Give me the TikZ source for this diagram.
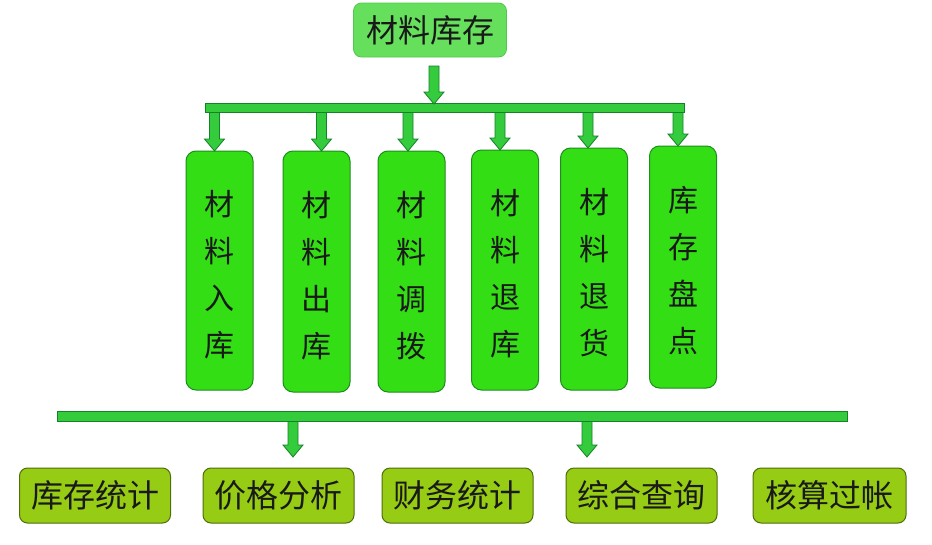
\documentclass[tikz,border=0pt]{standalone}
\usepackage{fontspec}
\setmainfont{Noto Sans CJK SC}
\usetikzlibrary{calc}
\definecolor{topfill}{RGB}{102,224,92}
\definecolor{topdraw}{RGB}{80,200,80}
\definecolor{colfill}{RGB}{52,222,20}
\definecolor{coldraw}{RGB}{30,140,30}
\definecolor{barfill}{RGB}{52,204,60}
\definecolor{bardraw}{RGB}{20,130,40}
\definecolor{botfill}{RGB}{150,204,20}
\definecolor{botdraw}{RGB}{80,110,10}
\definecolor{txt}{RGB}{25,25,25}
\tikzset{
  topbox/.style={draw=topdraw, fill=topfill, line width=0.8pt, rounded corners=8pt, minimum width=153pt, minimum height=54pt, inner sep=0pt, text=txt, font=\fontsize{32}{32}\selectfont},
  colbox/.style={draw=coldraw, fill=colfill, line width=1pt, rounded corners=10pt, minimum width=67pt, inner sep=0pt, text=txt, align=center, font=\fontsize{30}{47}\selectfont},
  botbox/.style={draw=botdraw, fill=botfill, line width=1pt, rounded corners=8pt, minimum width=151pt, minimum height=55pt, inner sep=0pt, text=txt, font=\fontsize{32}{32}\selectfont},
  bar/.style={draw=bardraw, fill=barfill, line width=0.8pt, inner sep=0pt},
  arrfill/.style={draw=bardraw, fill=barfill, line width=0.8pt, line join=miter}
}
\newcommand\blockarr[2]{\filldraw[arrfill] ($(#1)+(-5,0)$) -- ($(#2)+(-5,-12)$) -- ($(#2)+(-10,-12)$) -- (#2) -- ($(#2)+(10,-12)$) -- ($(#2)+(5,-12)$) -- ($(#1)+(5,0)$) -- cycle;}
\begin{document}
\begin{tikzpicture}[x=1pt,y=-1pt]
\useasboundingbox[fill=white] (0,0) rectangle (932,544);
% top
\node[topbox] (top) at (430,30) {材料库存};
\node[bar, minimum width=479pt, minimum height=9pt] (topbar) at (444.5,107.5) {};
\coordinate (ta0) at (434,66);
\coordinate (ta) at (434,104);
\blockarr{ta0}{ta}
% columns
\node[colbox, minimum height=239pt] (c1) at (219.5,270.5) {};
\node[colbox, minimum height=241pt] (c2) at (316.5,271.5) {};
\node[colbox, minimum height=241pt] (c3) at (411.5,271.5) {};
\node[colbox, minimum height=240pt] (c4) at (505,270) {};
\node[colbox, minimum height=242pt] (c5) at (594,269) {};
\node[colbox, minimum height=242pt] (c6) at (683,267) {};
\foreach \i/\t in {1/材\\料\\入\\库,2/材\\料\\出\\库,3/材\\料\\调\\拨,4/材\\料\\退\\库,5/材\\料\\退\\货,6/库\\存\\盘\\点}{
  \node[text=txt, align=center, font=\fontsize{30}{47}\selectfont, inner sep=0pt] at ($(c\i.center)+(0,4)$) {\t};
}
\coordinate (t1) at (214.5,151);
\coordinate (t2) at (321.5,151);
\coordinate (t3) at (408,151);
\coordinate (t4) at (500,150);
\coordinate (t5) at (588,148);
\coordinate (t6) at (678,146);
\foreach \i in {1,...,6}{
  \coordinate (s\i) at (topbar.south -| t\i);
  \blockarr{s\i}{t\i}
}
% bottom bar
\node[bar, minimum width=790pt, minimum height=10pt] (botbar) at (452,416) {};
\coordinate (b1) at (293,457);
\coordinate (b2) at (587,457);
\coordinate (bs1) at (botbar.south -| b1);
\coordinate (bs2) at (botbar.south -| b2);
\blockarr{bs1}{b1}
\blockarr{bs2}{b2}
% bottom boxes
\node[botbox] (d1) at (95,495.5) {库存统计};
\node[botbox] (d2) at (278.5,495.5) {价格分析};
\node[botbox] (d3) at (457.5,495.5) {财务统计};
\node[botbox] (d4) at (641.5,495.5) {综合查询};
\node[botbox, minimum width=153pt] (d5) at (829.5,495.5) {核算过帐};
\end{tikzpicture}
\end{document}
